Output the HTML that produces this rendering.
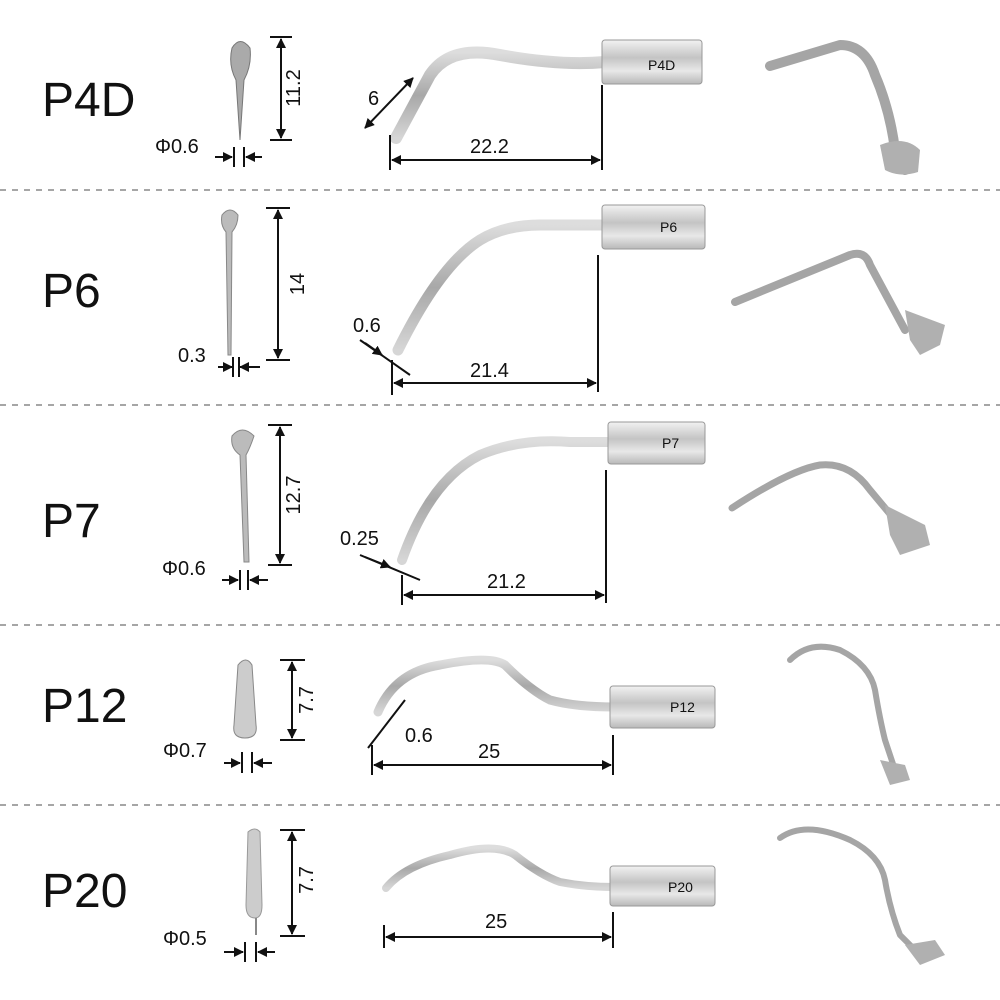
<!DOCTYPE html>
<html><head><meta charset="utf-8"><style>
html,body{margin:0;padding:0;background:#fff;width:1000px;height:1000px;overflow:hidden}
svg{display:block}
text{font-family:"Liberation Sans",sans-serif;fill:#111}
.lab{font-size:48px}
.dim{font-size:20px}
.dl{stroke:#111;stroke-width:2;fill:none}
.tip{fill:none;stroke:url(#g);stroke-linecap:round}
.sh{fill:url(#gs);stroke:#999;stroke-width:1}
.td{fill:none;stroke:#a5a5a5;stroke-linecap:round;stroke-linejoin:round}
</style></head><body>
<svg width="1000" height="1000" viewBox="0 0 1000 1000">
<defs>
<linearGradient id="g" x1="0" y1="0" x2="0" y2="1"><stop offset="0" stop-color="#ddd"/><stop offset=".5" stop-color="#a8a8a8"/><stop offset="1" stop-color="#d6d6d6"/></linearGradient>
<linearGradient id="gs" x1="0" y1="0" x2="0" y2="1"><stop offset="0" stop-color="#f2f2f2"/><stop offset=".4" stop-color="#c4c4c4"/><stop offset=".7" stop-color="#e8e8e8"/><stop offset="1" stop-color="#b8b8b8"/></linearGradient>
<marker id="a" markerWidth="10" markerHeight="10" refX="9" refY="5" orient="auto-start-reverse" markerUnits="userSpaceOnUse"><path d="M0,0 L10,5 L0,10z" fill="#111"/></marker>
</defs>
<g stroke="#888" stroke-width="1.5" stroke-dasharray="6,6">
<line x1="0" y1="190" x2="1000" y2="190"/><line x1="0" y1="405" x2="1000" y2="405"/>
<line x1="0" y1="625" x2="1000" y2="625"/><line x1="0" y1="805" x2="1000" y2="805"/>
</g>
<text class="lab" x="42" y="116">P4D</text>
<text class="lab" x="42" y="307">P6</text>
<text class="lab" x="42" y="537">P7</text>
<text class="lab" x="42" y="722">P12</text>
<text class="lab" x="42" y="907">P20</text>

<!-- Row 1 -->
<path d="M232,48 Q240,35 250,48 Q252,65 244,80 L240,140 L236,80 Q228,65 232,48z" fill="#aaa" stroke="#777"/>
<line class="dl" x1="270" y1="37" x2="292" y2="37"/><line class="dl" x1="270" y1="140" x2="292" y2="140"/>
<line class="dl" x1="281" y1="39" x2="281" y2="138" marker-start="url(#a)" marker-end="url(#a)"/>
<text class="dim" transform="translate(300,88) rotate(-90)" text-anchor="middle">11.2</text>
<text class="dim" x="155" y="153">Φ0.6</text>
<line class="dl" x1="215" y1="157" x2="232" y2="157" marker-end="url(#a)"/><line class="dl" x1="262" y1="157" x2="246" y2="157" marker-end="url(#a)"/>
<line class="dl" x1="234" y1="147" x2="234" y2="167"/><line class="dl" x1="244" y1="147" x2="244" y2="167"/>
<path class="tip" stroke-width="12" d="M396,138 L430,75 Q450,45 500,55 Q560,66 605,62"/>
<rect class="sh" x="602" y="40" width="100" height="44" rx="3"/>
<text x="648" y="70" style="font-size:14px">P4D</text>
<line class="dl" x1="390" y1="135" x2="390" y2="170"/><line class="dl" x1="602" y1="85" x2="602" y2="170"/>
<line class="dl" x1="392" y1="160" x2="600" y2="160" marker-start="url(#a)" marker-end="url(#a)"/>
<text class="dim" x="470" y="153">22.2</text>
<line class="dl" x1="365" y1="128" x2="413" y2="78" marker-start="url(#a)" marker-end="url(#a)"/>
<text class="dim" x="368" y="105">6</text>
<path class="td" stroke-width="10" d="M770,66 L840,45 Q865,45 875,75 Q890,110 895,150 L905,170"/>
<path d="M880,145 Q905,135 920,150 L918,172 Q900,178 885,170z" fill="#b0b0b0"/>

<!-- Row 2 -->
<path d="M222,215 Q230,205 238,215 Q238,225 232,232 L231,355 L228,355 L226,232 Q220,225 222,215z" fill="#bbb" stroke="#888"/>
<line class="dl" x1="266" y1="208" x2="290" y2="208"/><line class="dl" x1="266" y1="360" x2="290" y2="360"/>
<line class="dl" x1="278" y1="210" x2="278" y2="358" marker-start="url(#a)" marker-end="url(#a)"/>
<text class="dim" transform="translate(304,284) rotate(-90)" text-anchor="middle">14</text>
<text class="dim" x="178" y="362">0.3</text>
<line class="dl" x1="218" y1="367" x2="232" y2="367" marker-end="url(#a)"/><line class="dl" x1="260" y1="367" x2="240" y2="367" marker-end="url(#a)"/>
<line class="dl" x1="233" y1="357" x2="233" y2="377"/><line class="dl" x1="239" y1="357" x2="239" y2="377"/>
<path class="tip" stroke-width="11" d="M398,350 Q440,265 480,240 Q505,225 540,225 L605,225"/>
<rect class="sh" x="602" y="205" width="103" height="44" rx="3"/>
<text x="660" y="232" style="font-size:14px">P6</text>
<line class="dl" x1="598" y1="255" x2="598" y2="392"/><line class="dl" x1="392" y1="360" x2="392" y2="395"/>
<line class="dl" x1="394" y1="383" x2="596" y2="383" marker-start="url(#a)" marker-end="url(#a)"/>
<text class="dim" x="470" y="377">21.4</text>
<text class="dim" x="353" y="332">0.6</text>
<line class="dl" x1="360" y1="340" x2="410" y2="375"/>
<line class="dl" x1="365" y1="343" x2="382" y2="355" marker-end="url(#a)"/>
<path class="td" stroke-width="8" d="M735,302 L850,255 Q865,250 870,265 L905,330"/>
<path d="M905,310 L945,325 L940,345 L920,355 L910,340z" fill="#b0b0b0"/>

<!-- Row 3 -->
<path d="M232,436 Q242,424 254,436 Q250,448 246,455 L249,562 L244,562 L240,455 Q230,448 232,436z" fill="#bbb" stroke="#888"/>
<line class="dl" x1="268" y1="425" x2="292" y2="425"/><line class="dl" x1="268" y1="565" x2="292" y2="565"/>
<line class="dl" x1="280" y1="427" x2="280" y2="563" marker-start="url(#a)" marker-end="url(#a)"/>
<text class="dim" transform="translate(300,495) rotate(-90)" text-anchor="middle">12.7</text>
<text class="dim" x="162" y="575">Φ0.6</text>
<line class="dl" x1="222" y1="580" x2="238" y2="580" marker-end="url(#a)"/><line class="dl" x1="268" y1="580" x2="250" y2="580" marker-end="url(#a)"/>
<line class="dl" x1="240" y1="570" x2="240" y2="590"/><line class="dl" x1="248" y1="570" x2="248" y2="590"/>
<path class="tip" stroke-width="10" d="M402,560 Q430,480 480,455 Q520,438 570,442 L612,442"/>
<rect class="sh" x="608" y="422" width="97" height="42" rx="3"/>
<text x="662" y="448" style="font-size:14px">P7</text>
<line class="dl" x1="606" y1="470" x2="606" y2="603"/><line class="dl" x1="402" y1="575" x2="402" y2="605"/>
<line class="dl" x1="404" y1="595" x2="604" y2="595" marker-start="url(#a)" marker-end="url(#a)"/>
<text class="dim" x="487" y="588">21.2</text>
<text class="dim" x="340" y="545">0.25</text>
<line class="dl" x1="360" y1="555" x2="420" y2="580"/>
<line class="dl" x1="365" y1="557" x2="390" y2="567" marker-end="url(#a)"/>
<path class="td" stroke-width="7" d="M732,508 Q790,470 820,465 Q850,462 870,490 L895,520"/>
<path d="M885,505 L925,525 L930,545 L900,555 L890,535z" fill="#b0b0b0"/>

<!-- Row 4 -->
<path d="M238,665 Q246,655 252,665 L256,725 Q258,738 245,738 Q232,738 234,725z" fill="#ccc" stroke="#888"/>
<line class="dl" x1="280" y1="660" x2="305" y2="660"/><line class="dl" x1="280" y1="740" x2="305" y2="740"/>
<line class="dl" x1="292" y1="662" x2="292" y2="738" marker-start="url(#a)" marker-end="url(#a)"/>
<text class="dim" transform="translate(313,700) rotate(-90)" text-anchor="middle">7.7</text>
<text class="dim" x="163" y="757">Φ0.7</text>
<line class="dl" x1="224" y1="763" x2="240" y2="763" marker-end="url(#a)"/><line class="dl" x1="272" y1="763" x2="254" y2="763" marker-end="url(#a)"/>
<line class="dl" x1="242" y1="752" x2="242" y2="773"/><line class="dl" x1="252" y1="752" x2="252" y2="773"/>
<path class="tip" stroke-width="9" d="M378,712 Q395,672 440,665 Q490,655 505,665 Q530,690 550,700 Q575,707 615,707"/>
<rect class="sh" x="610" y="686" width="105" height="42" rx="3"/>
<text x="670" y="712" style="font-size:14px">P12</text>
<line class="dl" x1="613" y1="735" x2="613" y2="775"/><line class="dl" x1="372" y1="745" x2="372" y2="775"/>
<line class="dl" x1="374" y1="765" x2="611" y2="765" marker-start="url(#a)" marker-end="url(#a)"/>
<text class="dim" x="478" y="758">25</text>
<text class="dim" x="405" y="742">0.6</text>
<line class="dl" x1="368" y1="748" x2="405" y2="700"/>
<path class="td" stroke-width="6" d="M790,660 Q810,640 840,650 Q870,665 875,690 Q880,720 885,740 L895,770"/>
<path d="M880,760 L905,765 L910,780 L890,785z" fill="#b0b0b0"/>

<!-- Row 5 -->
<path d="M248,832 Q255,826 260,832 L262,905 Q262,918 255,918 Q246,918 246,905z" fill="#ccc" stroke="#999"/>
<line class="dl" x1="256" y1="918" x2="256" y2="935" style="stroke:#888"/>
<line class="dl" x1="280" y1="830" x2="305" y2="830"/><line class="dl" x1="280" y1="936" x2="305" y2="936"/>
<line class="dl" x1="292" y1="832" x2="292" y2="934" marker-start="url(#a)" marker-end="url(#a)"/>
<text class="dim" transform="translate(313,880) rotate(-90)" text-anchor="middle">7.7</text>
<text class="dim" x="163" y="945">Φ0.5</text>
<line class="dl" x1="224" y1="952" x2="243" y2="952" marker-end="url(#a)"/><line class="dl" x1="275" y1="952" x2="258" y2="952" marker-end="url(#a)"/>
<line class="dl" x1="245" y1="942" x2="245" y2="962"/><line class="dl" x1="256" y1="942" x2="256" y2="962"/>
<path class="tip" stroke-width="8" d="M386,888 Q405,865 450,855 Q495,842 515,855 Q540,875 560,882 Q585,887 615,887"/>
<rect class="sh" x="610" y="866" width="105" height="40" rx="3"/>
<text x="668" y="892" style="font-size:14px">P20</text>
<line class="dl" x1="613" y1="912" x2="613" y2="948"/><line class="dl" x1="384" y1="925" x2="384" y2="948"/>
<line class="dl" x1="386" y1="937" x2="611" y2="937" marker-start="url(#a)" marker-end="url(#a)"/>
<text class="dim" x="485" y="928">25</text>
<path class="td" stroke-width="6" d="M780,838 Q805,820 850,840 Q880,855 885,880 Q890,910 900,935 L915,950"/>
<path d="M905,945 L935,940 L945,955 L920,965z" fill="#b0b0b0"/>
</svg>
</body></html>
